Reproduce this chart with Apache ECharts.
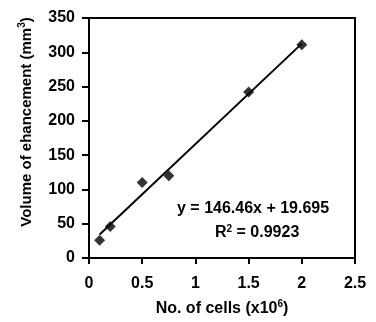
<!DOCTYPE html>
<html><head><meta charset="utf-8">
<script src="https://cdn.jsdelivr.net/npm/echarts@6/dist/echarts.min.js"></script>
<style>html,body{margin:0;padding:0;background:#fff}#c{width:376px;height:322px}</style>
</head><body><div id="c"></div>
<script>
const cells = [0.1, 0.2, 0.5, 0.75, 1.5, 2.0];
const volume = [26, 46, 110, 120, 242, 311];
const slope = 146.46, intercept = 19.695;
const trendX = [0.1, 2.0];
const xTicks = [0, 0.5, 1, 1.5, 2, 2.5];
const yTicks = [0, 50, 100, 150, 200, 250, 300, 350];
const eqText = 'y = 146.46x + 19.695';
const r2Text = '0.9923';

const F = 'Liberation Sans, Arial, sans-serif';
const chart = echarts.init(document.getElementById('c'));
chart.setOption({
  animation: false,
  backgroundColor: '#fff',
  grid: {left: 89, right: 21, top: 18, bottom: 64, show: true, borderColor: '#000', borderWidth: 2},
  xAxis: {
    type: 'value', min: 0, max: 2.5, interval: 0.5,
    axisLine: {lineStyle: {color: '#000', width: 2}},
    axisTick: {show: true, length: 6, lineStyle: {color: '#000', width: 2}},
    splitLine: {show: false},
    axisLabel: {color: '#000', fontFamily: F, fontWeight: 'bold', fontSize: 16, margin: 18},
    name: '{a|No. of cells (x10}{s|6}{a|)}', nameLocation: 'middle', nameGap: 41,
    nameTextStyle: {rich: {a: {fontFamily: F, fontWeight: 'bold', fontSize: 16, color: '#000'},
                            s: {fontFamily: F, fontWeight: 'bold', fontSize: 10, color: '#000', verticalAlign: 'top', padding: [0,0,10,0]}}}
  },
  yAxis: {
    type: 'value', min: 0, max: 350, interval: 50,
    axisLine: {show: true, lineStyle: {color: '#000', width: 2}},
    axisTick: {show: true, length: 7, lineStyle: {color: '#000', width: 2}},
    splitLine: {show: false},
    axisLabel: {color: '#000', fontFamily: F, fontWeight: 'bold', fontSize: 16, margin: 14},
    name: '{a|Volume of ehancement (mm}{s|3}{a|)}', nameLocation: 'middle', nameGap: 52,
    nameTextStyle: {padding: [0, 0, 0, 32], rich: {a: {fontFamily: F, fontWeight: 'bold', fontSize: 15, color: '#000'},
                            s: {fontFamily: F, fontWeight: 'bold', fontSize: 10, color: '#000', verticalAlign: 'top', padding: [0,0,10,0]}}}
  },
  series: [
    {type: 'line', data: trendX.map(x => [x, slope * x + intercept]), symbol: 'none',
     lineStyle: {color: '#000', width: 2}, z: 2},
    {type: 'scatter', data: cells.map((x, i) => [x, volume[i]]), symbol: 'diamond', symbolSize: 11,
     itemStyle: {color: '#000'}, z: 3}
  ],
  graphic: [
    {type: 'text', left: 177, top: 201, style: {text: eqText, font: 'bold 16px ' + F, fill: '#000'}},
    {type: 'text', left: 215, top: 224, style: {text: '{a|R}{s|2}{a| = ' + r2Text + '}',
      rich: {a: {font: 'bold 16px ' + F, fill: '#000'}, s: {font: 'bold 10px ' + F, fill: '#000', verticalAlign: 'top', padding: [0,0,8,0]}}}}
  ]
});
</script></body></html>
